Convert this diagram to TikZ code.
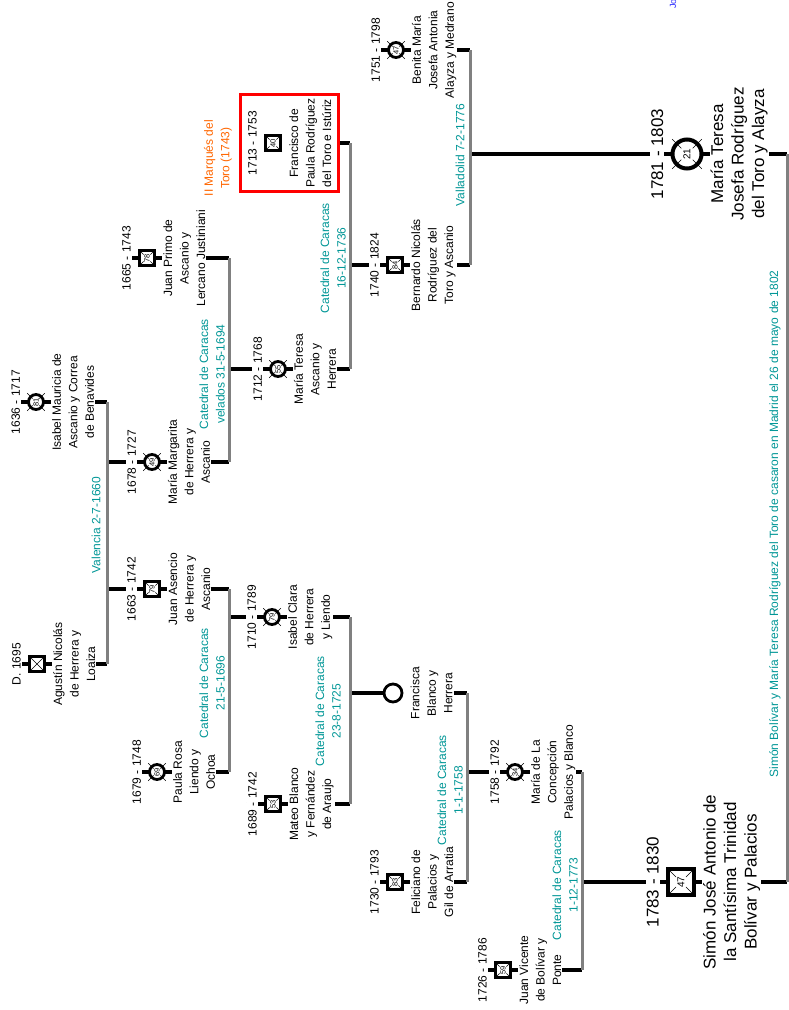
\documentclass[tikz,border=0pt]{standalone}
\usepackage{fontspec}
\setmainfont{Liberation Sans}
\usepackage{xcolor}
\usepackage{tikz}
\usetikzlibrary{positioning, fit, backgrounds}

\definecolor{boda}{RGB}{0,150,150}
\definecolor{titulo}{RGB}{255,102,0}
\definecolor{azulenlace}{RGB}{40,40,255}

\newcommand{\grande}{\fontsize{17}{20.5}\selectfont}
\newcommand{\persona}[6]{%
  \node[#3] (#1) at (#2) {#4};
  \node[fecha] (#1-d) at ([xshift=-6pt]#1.north) {#5};
  \node[nombre] (#1-n) at ([xshift=6pt]#1.south) {#6};
}
\newcommand{\marcas}[3]{%
  \foreach \a in {45,135,225,315}
    \draw[marca] (#1.center) ++(\a:#2) -- ++(\a:#3);
}

\begin{document}
\begin{tikzpicture}[x=1pt, y=-1pt,
  every node/.style={font=\fontsize{12}{16.5}\selectfont},
  fecha/.style={rotate=90, anchor=south, fill=white, inner sep=1pt},
  nombre/.style={rotate=90, anchor=north, align=center, fill=white, inner sep=1pt},
  hombre/.style={rotate=90, draw, rectangle, line width=2.8pt, minimum size=15.5pt,
    inner sep=0pt, fill=white, font=\fontsize{7.5}{7.5}\selectfont},
  hombrex/.style={hombre, path picture={
    \draw[marca] (path picture bounding box.south west) -- (path picture bounding box.north east)
                 (path picture bounding box.north west) -- (path picture bounding box.south east);}},
  mujer/.style={hombre, circle, minimum size=15pt},
  hombreg/.style={hombre, minimum size=26pt, line width=4pt, font=\fontsize{10}{10}\selectfont},
  mujerg/.style={mujer, minimum size=29pt, line width=4pt, font=\fontsize{10}{10}\selectfont},
  boda/.style={rotate=90, align=center, text=boda},
  enlace/.style={line width=3.5pt},
  pareja/.style={line width=3pt, gray},
  marca/.style={line width=0.45pt}]

\useasboundingbox (0,0) rectangle (789,1010);

% personas
\persona{isabelm}{36,402}{mujer}{81}{1636 - 1717}{Isabel Mauricia de\\Ascanio y Correa\\de Benavides}
\marcas{isabelm}{4.8pt}{7.7pt}
\persona{agustin}{37,664}{hombrex}{}{D. 1695}{Agustín Nicolás\\de Herrera y\\Loaiza}
\persona{juanpr}{147,258}{hombre}{78}{1665 - 1743}{Juan Primo de\\Ascanio y\\Lercano Justiniani}
\marcas{juanpr}{4.8pt}{7.7pt}
\persona{mmarg}{152,462}{mujer}{49}{1678 - 1727}{María Margarita\\de Herrera y\\Ascanio}
\marcas{mmarg}{4.8pt}{7.7pt}
\persona{juanas}{152,589}{hombre}{79}{1663 - 1742}{Juan Asencio\\de Herrera y\\Ascanio}
\marcas{juanas}{4.8pt}{7.7pt}
\persona{paula}{157,772}{mujer}{69}{1679 - 1748}{Paula Rosa\\Liendo y\\Ochoa}
\marcas{paula}{4.8pt}{7.7pt}
\persona{francisco}{273,143}{hombre}{40}{1713 - 1753}{Francisco de\\Paula Rodríguez\\del Toro e Istúriz}
\marcas{francisco}{4.8pt}{7.7pt}
\persona{mteresaa}{278,369}{mujer}{55}{1712 - 1768}{María Teresa\\Ascanio y\\Herrera}
\marcas{mteresaa}{4.8pt}{7.7pt}
\persona{isabelc}{272,617}{mujer}{79}{1710 - 1789}{Isabel Clara\\de Herrera\\y Liendo}
\marcas{isabelc}{4.8pt}{7.7pt}
\persona{mateo}{273,804}{hombre}{53}{1689 - 1742}{Mateo Blanco\\y Fernández\\de Araujo}
\marcas{mateo}{4.8pt}{7.7pt}
\persona{benita}{396,50}{mujer}{47}{1751 - 1798}{Benita María\\Josefa Antonia\\Alayza y Medrano}
\marcas{benita}{4.8pt}{7.7pt}
\persona{bernardo}{395,265}{hombre}{84}{1740 - 1824}{Bernardo Nicolás\\Rodríguez del\\Toro y Ascanio}
\marcas{bernardo}{4.8pt}{7.7pt}
\node[mujer, minimum size=18pt] (francisca) at (393,693) {};
\node[nombre] (francisca-n) at ([xshift=6pt]francisca.south) {Francisca\\Blanco y\\Herrera};
\persona{feliciano}{395,882}{hombre}{83}{1730 - 1793}{Feliciano de\\Palacios y\\Gil de Arratia}
\marcas{feliciano}{4.8pt}{7.7pt}
\persona{concepcion}{515,772}{mujer}{34}{1758 - 1792}{María de La\\Concepción\\Palacios y Blanco}
\marcas{concepcion}{4.8pt}{7.7pt}
\persona{juanvi}{503,970}{hombre}{59}{1726 - 1786}{Juan Vicente\\de Bolívar y\\Ponte}
\marcas{juanvi}{4.8pt}{7.7pt}

\begin{scope}[fecha/.append style={font=\grande}, nombre/.append style={font=\grande}]
\persona{mteresa}{687,154}{mujerg}{21}{1781 - 1803}{María Teresa\\Josefa Rodríguez\\del Toro y Alayza}
\marcas{mteresa}{8pt}{13pt}
\persona{simon}{681,882}{hombreg}{47}{1783 - 1830}{Simón José Antonio de\\la Santísima Trinidad\\Bolívar y Palacios}
\marcas{simon}{7pt}{11pt}
\end{scope}

\node[draw=red, line width=3pt, fit=(francisco-d)(francisco-n), inner xsep=6pt, inner ysep=3pt] (marco) {};
\node[rotate=90, align=center, text=titulo] (marques) at (218,158) {II Marqués del\\Toro (1743)};

% bodas
\node[boda] (b1) at (96,525) {Valencia 2-7-1660};
\node[boda] (b2) at (212,374) {Catedral de Caracas\\velados 31-5-1694};
\node[boda] (b3) at (212,683) {Catedral de Caracas\\21-5-1696};
\node[boda] (b4) at (333,258) {Catedral de Caracas\\16-12-1736};
\node[boda] (b5) at (328,711) {Catedral de Caracas\\23-8-1725};
\node[boda] (b6) at (460,155) {Valladolid 7-2-1776};
\node[boda] (b7) at (450,790) {Catedral de Caracas\\1-1-1758};
\node[boda] (b8) at (565,885) {Catedral de Caracas\\1-12-1773};
\node[boda] (b9) at (775,524) {Simón Bolívar y María Teresa Rodríguez del Toro de casaron en Madrid el 26 de mayo de 1802};
\node[rotate=90, anchor=west, text=azulenlace, inner sep=0pt, font=\fontsize{9}{9}\selectfont] (jo) at (673,9) {Jo};

\coordinate (v1) at (107,525);
\coordinate (v2) at (229,374);
\coordinate (v3) at (229,683);
\coordinate (v4) at (350,258);
\coordinate (v5) at (350,711);
\coordinate (v6) at (470,155);
\coordinate (v7) at (467,790);
\coordinate (v8) at (582,885);
\coordinate (v9) at (787,524);

\begin{scope}[on background layer]
\foreach \p in {isabelm, agustin, juanpr, mmarg, juanas, paula, mteresaa, isabelc, mateo,
                benita, bernardo, feliciano, concepcion, juanvi, mteresa, simon}
  \draw[enlace] (\p-d.north) -- (\p-n.south);

\draw[enlace] (isabelm-n.south) -- (isabelm-n.south -| v1)
              (agustin-n.south) -- (agustin-n.south -| v1)
              (v1 |- mmarg) -- (mmarg-d.north)
              (v1 |- juanas) -- (juanas-d.north);
\draw[enlace] (juanpr-n.south) -- (juanpr-n.south -| v2)
              (mmarg-n.south) -- (mmarg-n.south -| v2)
              (v2 |- mteresaa) -- (mteresaa-d.north);
\draw[enlace] (juanas-n.south) -- (juanas-n.south -| v3)
              (paula-n.south) -- (paula-n.south -| v3)
              (v3 |- isabelc) -- (isabelc-d.north);
\draw[enlace] (marco.east) -- (marco.east -| v4)
              (mteresaa-n.south) -- (mteresaa-n.south -| v4)
              (v4 |- bernardo) -- (bernardo-d.north);
\draw[enlace] (isabelc-n.south) -- (isabelc-n.south -| v5)
              (mateo-n.south) -- (mateo-n.south -| v5)
              (v5 |- francisca) -- (francisca.north);
\draw[enlace] (benita-n.south) -- (benita-n.south -| v6)
              (bernardo-n.south) -- (bernardo-n.south -| v6)
              (v6 |- mteresa) -- (mteresa-d.north);
\draw[enlace] (francisca-n.south) -- (francisca-n.south -| v7)
              (feliciano-n.south) -- (feliciano-n.south -| v7)
              (v7 |- concepcion) -- (concepcion-d.north);
\draw[enlace] (concepcion-n.south) -- (concepcion-n.south -| v8)
              (juanvi-n.south) -- (juanvi-n.south -| v8)
              (v8 |- simon) -- (simon-d.north);
\draw[enlace] (mteresa-n.south) -- (mteresa-n.south -| v9)
              (simon-n.south) -- (simon-n.south -| v9);

\draw[pareja] (isabelm -| v1) -- (agustin -| v1);
\draw[pareja] (juanpr -| v2) -- (mmarg -| v2);
\draw[pareja] (juanas -| v3) -- (paula -| v3);
\draw[pareja] (marco.east -| v4) -- (mteresaa -| v4);
\draw[pareja] (isabelc -| v5) -- (mateo -| v5);
\draw[pareja] (benita -| v6) -- (bernardo -| v6);
\draw[pareja] (francisca -| v7) -- (feliciano -| v7);
\draw[pareja] (concepcion -| v8) -- (juanvi -| v8);
\draw[pareja] (mteresa -| v9) -- (simon -| v9);
\end{scope}
\end{tikzpicture}
\end{document}
